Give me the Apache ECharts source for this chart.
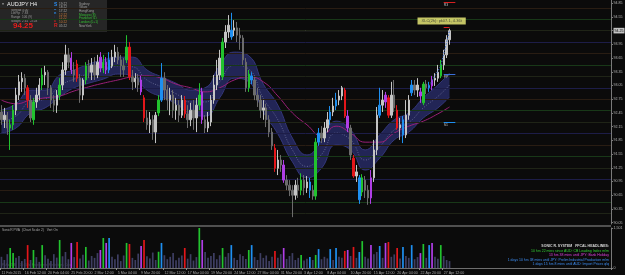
<!DOCTYPE html>
<html>
<head>
<meta charset="utf-8">
<title>AUDJPY H4</title>
<script src="https://cdn.jsdelivr.net/npm/echarts@6/dist/echarts.min.js"></script>
<style>
  html, body { margin: 0; padding: 0; background: #0b0b0b; }
  #chart { width: 625px; height: 275px; }
</style>
</head>
<body>
<div id="chart"></div>
<script>
// x axis: one label every 8 candle slots
const timeLabels = ['11 Feb 2015', '16 Feb 12:00', '20 Feb 04:00', '25 Feb 20:00', '2 Mar 12:00',
  '5 Mar 04:00', '9 Mar 20:00', '12 Mar 12:00', '17 Mar 04:00', '19 Mar 20:00', '24 Mar 12:00',
  '27 Mar 04:00', '31 Mar 20:00', '3 Apr 12:00', '8 Apr 04:00', '10 Apr 20:00', '15 Apr 12:00',
  '20 Apr 04:00', '22 Apr 20:00', '27 Apr 12:00']
const slotCount = 210 // chart shift leaves empty slots on the right

const priceTicks = [94.85, 94.55, 94.25, 93.95, 93.65, 93.35, 93.05, 92.75, 92.45, 92.15,
  91.85, 91.55, 91.25, 90.95, 90.65, 90.35, 90.05]
const levelPrices = [94.75, 94.5, 94.25, 94, 93.75, 93.5, 93.25, 93, 92.75, 92.5, 92.25,
  92, 91.75, 91.5, 91.25, 91, 90.75, 90.5, 90.25]
const lastPrice = 94.25

const opens = [
  92.47, 92.30, 92.40, 92.12, 92.19, 92.51, 92.84, 93.13, 93.21, 93.00,
  92.73, 92.30, 92.69, 92.84, 93.06, 93.28, 93.34, 93.00, 92.73, 92.62,
  92.84, 93.06, 93.39, 93.72, 93.65, 93.39, 93.52, 93.21, 92.84, 93.17,
  93.48, 93.34, 93.50, 93.28, 93.67, 93.43, 93.56, 93.39, 93.48, 93.67,
  93.78, 93.61, 93.48, 93.61, 93.89, 93.24, 93.13, 93.21, 93.17, 92.78,
  92.34, 92.19, 92.30, 92.03, 92.45, 92.73, 93.21, 92.95, 92.73, 92.84,
  92.51, 92.62, 92.40, 92.73, 92.43, 92.30, 92.51, 92.34, 92.62, 92.91,
  92.30, 92.12, 92.25, 92.73, 93.06, 93.28, 93.24, 94.00, 94.22, 94.11,
  94.26, 94.31, 94.15, 94.09, 93.56, 93.00, 93.26, 93.17, 92.84, 92.73,
  92.51, 92.56, 92.30, 92.03, 91.68, 91.24, 91.42, 91.31, 90.98, 90.87,
  90.76, 90.65, 90.87, 90.76, 90.98, 90.81, 90.94, 90.76, 90.63, 91.81,
  92.01, 91.90, 92.12, 92.30, 92.47, 92.60, 92.73, 92.82, 92.95, 92.38,
  92.12, 91.46, 91.07, 91.03, 90.72, 90.98, 90.76, 90.59, 91.03, 91.64,
  92.40, 92.62, 92.84, 92.78, 92.40, 92.84, 92.51, 92.12, 92.30, 91.97,
  92.40, 92.89, 93.06, 92.95, 92.91, 92.67, 93.08, 93.00, 93.04, 93.17,
  93.21, 93.26, 93.50, 93.72, 94.05]
const closes = [
  92.30, 92.40, 92.12, 92.19, 92.51, 92.84, 93.13, 93.21, 93.00, 92.73,
  92.34, 92.69, 92.84, 93.06, 93.28, 93.34, 93.00, 92.73, 92.62, 92.84,
  93.06, 93.39, 93.72, 93.56, 93.39, 93.28, 93.21, 92.84, 93.17, 93.48,
  93.34, 93.50, 93.28, 93.56, 93.43, 93.56, 93.39, 93.61, 93.67, 93.78,
  93.61, 93.48, 93.39, 93.89, 93.24, 93.13, 93.21, 93.06, 92.91, 92.34,
  92.19, 92.30, 92.03, 92.40, 92.73, 93.21, 92.95, 92.73, 92.84, 92.51,
  92.62, 92.40, 92.73, 92.43, 92.30, 92.51, 92.34, 92.62, 92.84, 92.30,
  92.12, 92.25, 92.73, 93.06, 93.28, 93.65, 94.00, 94.22, 94.37, 94.26,
  94.31, 94.15, 94.09, 93.61, 93.00, 93.30, 93.17, 92.84, 92.73, 92.51,
  92.56, 92.30, 92.03, 91.73, 91.24, 91.42, 91.31, 90.98, 90.87, 90.76,
  90.65, 90.87, 90.76, 90.98, 90.81, 90.94, 90.76, 90.63, 91.81, 92.01,
  91.90, 92.12, 92.30, 92.47, 92.60, 92.73, 92.82, 93.00, 92.38, 92.12,
  91.53, 91.07, 91.16, 90.55, 91.03, 90.76, 90.59, 91.03, 91.64, 92.40,
  92.62, 92.73, 92.69, 92.40, 92.84, 92.56, 92.12, 92.19, 91.97, 92.40,
  92.73, 93.06, 92.95, 93.06, 92.82, 93.08, 93.00, 93.04, 93.17, 93.21,
  93.34, 93.50, 93.72, 94.05, 94.25]
const lows = [
  92.19, 92.12, 91.97, 91.64, 92.08, 92.40, 92.73, 92.91, 92.84, 92.56,
  92.25, 92.19, 92.56, 92.73, 92.95, 93.06, 92.84, 92.56, 92.47, 92.45,
  92.73, 92.95, 93.28, 93.43, 93.30, 93.13, 93.13, 92.67, 92.73, 93.08,
  93.21, 93.17, 93.17, 93.21, 93.34, 93.32, 93.30, 93.32, 93.43, 93.56,
  93.52, 93.24, 93.24, 93.54, 93.17, 92.95, 93.00, 92.91, 92.84, 92.25,
  92.08, 92.01, 91.86, 91.79, 92.38, 92.69, 92.73, 92.51, 92.40, 92.34,
  92.30, 92.25, 92.34, 92.34, 92.12, 92.16, 92.08, 92.03, 92.51, 92.21,
  92.01, 92.03, 92.16, 92.65, 92.95, 93.17, 93.17, 93.87, 94.09, 94.05,
  94.13, 94.00, 93.83, 93.50, 92.91, 92.91, 93.08, 92.73, 92.58, 92.34,
  92.30, 92.14, 91.92, 91.64, 91.16, 91.09, 91.16, 90.92, 90.76, 90.63,
  90.17, 90.55, 90.59, 90.65, 90.65, 90.70, 90.59, 90.55, 90.55, 91.73,
  91.79, 91.81, 92.03, 92.19, 92.38, 92.51, 92.62, 92.73, 92.34, 92.03,
  91.42, 91.03, 90.94, 90.46, 90.63, 90.59, 90.44, 90.46, 90.94, 91.53,
  92.34, 92.47, 92.56, 92.34, 92.34, 92.47, 92.08, 91.86, 91.79, 91.90,
  92.30, 92.82, 92.84, 92.80, 92.67, 92.62, 92.86, 92.91, 92.95, 93.04,
  93.13, 93.21, 93.39, 93.65, 93.94]
const highs = [
  92.62, 92.56, 92.47, 92.30, 92.62, 93.00, 93.28, 93.34, 93.30, 93.06,
  92.84, 92.78, 93.00, 93.21, 93.43, 93.48, 93.39, 93.06, 92.84, 92.95,
  93.21, 93.56, 93.94, 93.87, 93.78, 93.56, 93.61, 93.30, 93.21, 93.56,
  93.61, 93.65, 93.67, 93.72, 93.78, 93.72, 93.67, 93.78, 93.83, 93.94,
  93.89, 93.72, 93.65, 94.15, 94.00, 93.39, 93.32, 93.30, 93.26, 92.84,
  92.51, 92.47, 92.40, 92.47, 92.84, 93.54, 93.34, 93.06, 93.00, 92.95,
  92.78, 92.73, 92.84, 92.82, 92.62, 92.67, 92.73, 92.78, 93.10, 93.00,
  92.40, 92.47, 92.84, 93.28, 93.61, 93.83, 94.09, 94.37, 94.59, 94.64,
  94.48, 94.44, 94.31, 94.15, 93.65, 93.39, 93.34, 93.24, 93.00, 92.84,
  92.73, 92.65, 92.40, 92.12, 91.77, 91.64, 91.53, 91.42, 91.09, 90.98,
  90.87, 90.98, 91.03, 91.13, 91.09, 91.07, 91.03, 90.87, 91.90, 92.12,
  92.16, 92.25, 92.47, 92.60, 92.78, 92.89, 92.95, 93.04, 93.00, 92.51,
  92.19, 91.53, 91.31, 91.09, 91.11, 91.07, 90.87, 91.20, 91.86, 92.58,
  93.00, 92.95, 92.91, 92.84, 93.13, 93.17, 92.62, 92.34, 92.38, 92.73,
  92.84, 93.17, 93.17, 93.21, 93.00, 93.13, 93.17, 93.13, 93.26, 93.32,
  93.50, 93.61, 93.83, 94.15, 94.29]
const volumes = [
  420, 300, 520, 750, 560, 380, 450, 260, 340, 860,
  300, 675, 410, 230, 860, 480, 350, 260, 520, 390,
  1050, 440, 600, 330, 940, 410, 975, 360, 500, 790,
  280, 450, 380, 560, 675, 1125, 940, 1125, 420, 330,
  510, 260, 470, 940, 900, 380, 300, 540, 825, 1050,
  440, 360, 580, 300, 610, 940, 480, 330, 420, 560,
  290, 380, 470, 750, 350, 520, 280, 410, 1501, 1050,
  600, 380, 450, 560, 330, 480, 750, 420, 560, 860,
  380, 300, 520, 450, 340, 675, 860, 410, 300, 560,
  380, 470, 260, 420, 640, 380, 520, 750, 340, 450,
  560, 300, 380, 490, 280, 350, 410, 300, 490, 710,
  330, 420, 360, 710, 300, 750, 420, 380, 640, 675,
  450, 790, 380, 600, 1010, 420, 360, 860, 520, 600,
  825, 380, 940, 975, 420, 510, 750, 360, 790, 450,
  380, 860, 330, 410, 560, 900, 380, 860, 940, 420,
  350, 860, 450, 300, 260]
// PVA volume class per candle: n normal, g bull climax, r bear climax, b / m rising volume
const pva = [
  'n', 'n', 'n', 'g', 'g', 'n', 'n', 'n', 'n', 'r',
  'n', 'g', 'n', 'n', 'g', 'n', 'n', 'n', 'n', 'n',
  'g', 'n', 'n', 'n', 'm', 'n', 'r', 'n', 'n', 'g',
  'n', 'n', 'n', 'n', 'm', 'g', 'm', 'b', 'n', 'n',
  'n', 'n', 'n', 'g', 'r', 'n', 'n', 'n', 'm', 'r',
  'n', 'n', 'n', 'n', 'g', 'b', 'n', 'n', 'n', 'n',
  'n', 'n', 'n', 'r', 'n', 'n', 'n', 'n', 'g', 'm',
  'n', 'n', 'n', 'n', 'n', 'n', 'g', 'n', 'n', 'b',
  'n', 'n', 'n', 'n', 'n', 'g', 'b', 'n', 'n', 'n',
  'n', 'n', 'n', 'n', 'r', 'n', 'n', 'm', 'n', 'n',
  'n', 'n', 'n', 'g', 'n', 'n', 'b', 'n', 'g', 'b',
  'n', 'n', 'n', 'b', 'n', 'b', 'n', 'n', 'r', 'm',
  'n', 'r', 'n', 'b', 'g', 'n', 'n', 'm', 'n', 'n',
  'b', 'n', 'm', 'r', 'n', 'n', 'r', 'n', 'b', 'n',
  'n', 'b', 'n', 'n', 'm', 'g', 'n', 'b', 'm', 'n',
  'n', 'g', 'n', 'n', 'n']

// moving averages read every 5th candle
const maIdx = [0, 5, 10, 15, 20, 25, 30, 35, 40, 45, 50, 55, 60, 65, 70, 75,
  80, 85, 90, 95, 100, 105, 110, 115, 120, 125, 130, 135, 140, 145, 150, 154]
const dragonHigh = [92.51, 92.65, 92.95, 92.95, 93.28, 93.39, 93.52, 93.61, 93.67, 93.67, 93.39,
  93.24, 93.10, 92.95, 93.00, 93.48, 93.78, 93.70, 93.08, 92.62, 91.90, 91.53, 91.84, 92.27,
  92.08, 91.64, 91.97, 92.30, 92.45, 92.78, 93.06, 93.32]
const dragonLow = [92.01, 92.12, 92.45, 92.56, 92.80, 93.00, 93.10, 93.19, 93.30, 93.26, 92.95,
  92.80, 92.65, 92.43, 92.38, 92.78, 93.21, 93.13, 92.47, 91.99, 91.38, 91.03, 91.24, 91.75,
  91.64, 91.20, 91.46, 91.86, 92.03, 92.34, 92.56, 92.80]
const dragonMid = [92.26, 92.38, 92.70, 92.75, 93.04, 93.19, 93.31, 93.40, 93.48, 93.46, 93.17,
  93.02, 92.87, 92.69, 92.69, 93.13, 93.49, 93.41, 92.77, 92.30, 91.64, 91.28, 91.54, 92.01,
  91.86, 91.42, 91.71, 92.08, 92.24, 92.56, 92.81, 93.06]
const ema89 = [92.73, 92.65, 92.73, 92.78, 92.82, 92.93, 93.02, 93.10, 93.17, 93.24, 93.26,
  93.21, 93.08, 93.00, 92.91, 93.00, 93.17, 93.24, 93.13, 92.82, 92.45, 92.19, 91.95, 92.16,
  92.01, 91.81, 91.81, 92.01, 92.16, 92.27, 92.43, 92.58]

// signal dots and chart objects
const signalIdx = [147, 151, 154]
const signalPrice = [93.04, 93.48, 94.25]
const tagNames = ['R3', '', 'PP', 'S1']
const tagPrices = [94.87, 94.33, 93.29, 92.25]
const noteText = 'XLC(2h): pk07.1, 4.36t'

const FONT = 'Liberation Sans, Arial, sans-serif'
const pvaColors = { g: '#22c22e', r: '#e3161a', b: '#1e8ff0', m: '#b03ee6' }
const tagColors = ['#d82020', '#d82020', '#3a6fd8', '#1e8ff0']

const categories = Array.from({ length: slotCount }, (_, i) =>
  i % 8 === 0 && timeLabels[i / 8] ? timeLabels[i / 8] : '')

function levelColor(p) {
  const frac = Math.round((p % 1) * 100)
  if (frac === 0) return '#1d1d48'
  if (frac === 50) return '#183818'
  if (frac === 25) return '#1f2417'
  return '#291d13'
}

const candleData = closes.map((c, i) => {
  const k = pva[i]
  const col = k === 'n' ? (c >= opens[i] ? '#c4c4c4' : '#6c6c6c') : pvaColors[k]
  return {
    value: [opens[i], c, lows[i], highs[i]],
    itemStyle: { color: col, color0: col, borderColor: col, borderColor0: col, borderWidth: 1 }
  }
})

const volumeData = volumes.map((v, i) => ({
  value: v,
  itemStyle: { color: pva[i] === 'n' ? '#3e3e62' : pvaColors[pva[i]] }
}))

function txt(x, y, text, fill, size, extra) {
  return {
    type: 'text', x, y, silent: true,
    style: Object.assign({ text, fill, fontSize: size, fontFamily: FONT, align: 'left', verticalAlign: 'top' }, extra || {})
  }
}

// info panel (top left)
const panelRows = [['Spread', '3.00'], ['LotPip', '7.83'], ['Range', '106 (9)'], ['Swaps', '2.61  -3.03']]
const sessionTimes = ['19:22', '18:22', '17:22', '12:22', '11:22', '10:22', '05:22']
const sessionNames = ['Sydney', 'Tokyo', 'HongKong', 'Moscow (8)', 'Frankfurt (L)', 'London (0+1)', 'NewYork']
const sonicLetters = ['S', 'o', 'n', 'i', 'c', 'R']

const graphics = [
  { type: 'rect', silent: true, shape: { x: 0, y: 0, width: 107, height: 32 }, style: { fill: '#262626' } },
  txt(1.5, 3, '▼', '#bbbbbb', 3),
  txt(7, 1.5, 'AUDJPY', '#f0f0f0', 5.5),
  txt(30, 1.5, 'H4', '#f0f0f0', 5.5),
  txt(13, 21.5, String(lastPrice.toFixed(2)), '#e81c1c', 8, { fontWeight: 'bold' }),
  // separator between price and volume windows
  { type: 'rect', silent: true, shape: { x: 0, y: 225, width: 611, height: 2 }, style: { fill: '#505050' } },
  txt(2, 228.5, 'SonicR PVA  (Chart Scale 2)   Vert On', '#a8a8a8', 3.3),
  txt(2, 263.5, 'PaPa 4TM_  15:55 fx  PriceLevels  Reflections Cara', '#4e4e4e', 3)
]
panelRows.forEach((r, j) => {
  graphics.push(txt(11, 8.5 + j * 3.6, r[0], '#9a9a9a', 3.2))
  graphics.push(txt(22, 8.5 + j * 3.6, r[1], '#9a9a9a', 3.2))
})
const sonicY = [2.5, 7, 11, 15, 18.5, 23]
const sonicCol = ['#2a8cf0', '#2a8cf0', '#2a8cf0', '#1c2f5c', '#d42020', '#d42020']
sonicLetters.forEach((s, j) => {
  graphics.push(txt(54, sonicY[j], s, sonicCol[j], j === 0 || j === 5 ? 5 : 3.8, { fontWeight: 'bold' }))
})
sessionTimes.forEach((t, j) => {
  const hot = j >= 3 && j <= 5
  graphics.push(txt(59, 2.2 + j * 3.7, t, hot ? '#c87838' : '#a8a8a8', 3.2))
  graphics.push(txt(79, 2.2 + j * 3.7, sessionNames[j], hot ? '#34c034' : '#a0a0a0', 3.2))
})

// news headlines (bottom right)
const headlines = [
  ['SONIC R. SYSTEM   FFCAL HEADLINES:', '#d8d8d8'],
  ['10 hrs 22 mins since AUD: CB Leading Index m/m', '#34d034'],
  ['13 hrs 38 mins until JPY: Bank Holiday', '#e040e0'],
  ['1 days 10 hrs 38 mins until JPY: Prelim Industrial Production m/m', '#3f8ff5'],
  ['1 days 15 hrs 8 mins until AUD: Import Prices q/q', '#3f8ff5']
]
headlines.forEach((h, j) => {
  graphics.push(txt(609, 244.5 + j * 4.5, h[0], h[1], 3.5, { align: 'right', fontWeight: j === 0 ? 'bold' : 'normal' }))
})

const chart = echarts.init(document.getElementById('chart'), null, { renderer: 'canvas' })

chart.setOption({
  backgroundColor: '#0b0b0b',
  animation: false,
  textStyle: { fontFamily: FONT },
  grid: [
    { left: 0, right: 14, top: 0, height: 224, containLabel: false, outerBoundsMode: 'none' },
    { left: 0, right: 14, top: 228, height: 40, containLabel: false, outerBoundsMode: 'none' }
  ],
  xAxis: [
    {
      type: 'category', gridIndex: 0, data: categories, boundaryGap: true,
      axisLine: { show: false }, axisTick: { show: false }, axisLabel: { show: false }, splitLine: { show: false }
    },
    {
      type: 'category', gridIndex: 1, data: categories, boundaryGap: true,
      axisLine: { show: true, lineStyle: { color: '#6e6e6e', width: 1 } },
      axisTick: { show: true, interval: (i, v) => v !== '', length: 2, lineStyle: { color: '#8a8a8a' } },
      axisLabel: {
        interval: (i, v) => v !== '', align: 'left', margin: 2.5,
        color: '#a8a8a8', fontSize: 3.6, fontFamily: FONT
      },
      splitLine: { show: false }
    }
  ],
  yAxis: [
    {
      type: 'value', gridIndex: 0, position: 'right', min: 90.02, max: 94.92,
      axisLine: { show: true, lineStyle: { color: '#7a7a7a' } },
      axisTick: { show: true, customValues: priceTicks, length: 2, lineStyle: { color: '#7a7a7a' } },
      axisLabel: {
        customValues: priceTicks, margin: 2.5, color: '#b8b8b8', fontSize: 3.6, fontFamily: FONT,
        formatter: v => (Math.abs(v - lastPrice) < 1e-6 ? '{hl|' + v.toFixed(2) + '}' : v.toFixed(2)),
        rich: { hl: { backgroundColor: '#c4c4c4', color: '#000000', fontSize: 3.6, padding: [0.8, 1, 0.8, 1] } }
      },
      splitLine: { show: false }
    },
    {
      type: 'value', gridIndex: 1, position: 'right', min: 0, max: 1501,
      axisLine: { show: true, lineStyle: { color: '#7a7a7a' } },
      axisTick: { show: true, customValues: [0, 1501], length: 2, lineStyle: { color: '#7a7a7a' } },
      axisLabel: { customValues: [0, 1501], margin: 2.5, color: '#b8b8b8', fontSize: 3.6, fontFamily: FONT },
      splitLine: { show: false }
    }
  ],
  series: [
    {
      // horizontal level lines
      type: 'line', xAxisIndex: 0, yAxisIndex: 0, data: [], z: 1, silent: true,
      markLine: {
        silent: true, symbol: ['none', 'none'], label: { show: false }, animation: false,
        data: levelPrices.map(p => ({ yAxis: p, lineStyle: { color: levelColor(p), width: 1, type: 'solid' } }))
      }
    },
    {
      type: 'line', xAxisIndex: 0, yAxisIndex: 0, stack: 'dragon', smooth: 0.5, symbol: 'none', silent: true, z: 2,
      data: maIdx.map((k, j) => [k, dragonLow[j]]),
      lineStyle: { color: '#33367a', width: 1 }
    },
    {
      type: 'line', xAxisIndex: 0, yAxisIndex: 0, stack: 'dragon', smooth: 0.5, symbol: 'none', silent: true, z: 2,
      data: maIdx.map((k, j) => [k, dragonHigh[j] - dragonLow[j]]),
      lineStyle: { color: '#33367a', width: 1 },
      areaStyle: { color: '#222556', opacity: 1 }
    },
    {
      type: 'line', xAxisIndex: 0, yAxisIndex: 0, smooth: 0.5, symbol: 'none', silent: true, z: 3,
      data: maIdx.map((k, j) => [k, dragonMid[j]]),
      lineStyle: { color: '#7a7ca6', width: 0.7, type: [1, 1.5] }
    },
    {
      type: 'line', xAxisIndex: 0, yAxisIndex: 0, smooth: 0.5, symbol: 'none', silent: true, z: 3,
      data: maIdx.map((k, j) => [k, ema89[j]]),
      lineStyle: { color: '#9a1f78', width: 1 }
    },
    {
      // bid line segment
      type: 'line', xAxisIndex: 0, yAxisIndex: 0, symbol: 'none', silent: true, z: 4,
      data: [[82, lastPrice], [154, lastPrice]],
      lineStyle: { color: '#7c7c7c', width: 1 }
    },
    {
      type: 'candlestick', xAxisIndex: 0, yAxisIndex: 0, data: candleData, barWidth: 1.9, z: 5, silent: true
    },
    {
      type: 'line', xAxisIndex: 0, yAxisIndex: 0, z: 7, silent: true,
      data: signalIdx.map((k, j) => [k, signalPrice[j]]),
      lineStyle: { color: '#3f6fd0', width: 1, type: [1.5, 1.5] },
      symbol: 'circle', symbolSize: 5,
      itemStyle: { color: '#0c0c0c', borderColor: '#ffffff', borderWidth: 1.4 }
    },
    {
      // small level tags right of the last candle
      type: 'line', xAxisIndex: 0, yAxisIndex: 0, data: [], z: 6, silent: true,
      markLine: {
        silent: true, symbol: ['none', 'none'], animation: false,
        label: { show: true, position: 'insideStartBottom', distance: [0, 0.5], formatter: '{b}', color: '#c0c0c0', fontSize: 3.5, fontFamily: FONT },
        data: tagPrices.map((p, j) => [
          { name: tagNames[j], coord: [152, p], lineStyle: { color: tagColors[j], width: 1, type: 'solid' } },
          { coord: [j === 1 ? 154 : 156, p] }
        ])
      }
    },
    {
      type: 'scatter', xAxisIndex: 0, yAxisIndex: 0, z: 8, silent: true, symbolSize: 0,
      data: [[143, 94.46]],
      label: {
        show: true, position: 'right', distance: 0, formatter: noteText,
        backgroundColor: '#f2f27c', color: '#2a2a2a', fontSize: 4, fontFamily: FONT, padding: [1.5, 4, 1.5, 4]
      }
    },
    {
      type: 'bar', xAxisIndex: 1, yAxisIndex: 1, data: volumeData, barWidth: 1.7, silent: true, z: 3
    }
  ],
  graphic: graphics
})
</script>
</body>
</html>
